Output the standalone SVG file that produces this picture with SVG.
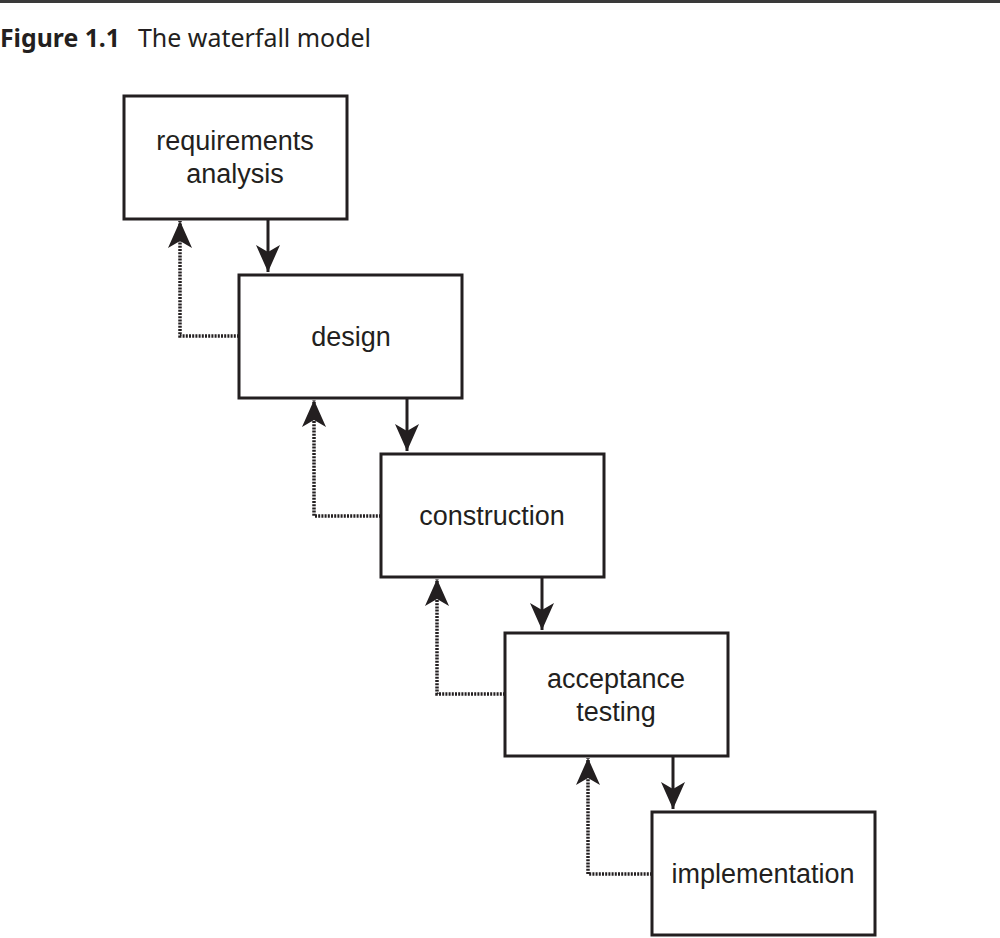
<svg xmlns="http://www.w3.org/2000/svg" width="1000" height="938" viewBox="0 0 1000 938">
<style>
.box{fill:#fff;stroke:#231f20;stroke-width:3}
.lbl{font-family:"Liberation Sans",Arial,sans-serif;font-size:27px;fill:#231f20;text-anchor:middle}
.solid{fill:none;stroke:#231f20;stroke-width:3}
.dot{fill:none;stroke:#231f20;stroke-width:3.5;stroke-dasharray:2 1.2}
</style>
<defs>
<marker id="ah" markerUnits="userSpaceOnUse" markerWidth="32" markerHeight="28" viewBox="-30 -14 32 28" refX="0" refY="0" orient="auto">
<path d="M0,0 L-27,-12 L-20,0 L-27,12 Z" fill="#231f20"/>
</marker>
</defs>
<rect width="1000" height="938" fill="#fff"/>
<line x1="0" y1="1.5" x2="1000" y2="1.5" stroke="#3a3a3a" stroke-width="3"/>
<text x="0" y="47" font-family="'Noto Sans',sans-serif" font-size="25" font-weight="bold" fill="#231f20" textLength="120" lengthAdjust="spacingAndGlyphs">Figure 1.1</text>
<text x="138" y="47" font-family="'Noto Sans',sans-serif" font-size="25" fill="#231f20" textLength="233" lengthAdjust="spacingAndGlyphs">The waterfall model</text>
<g id="connectors">
<path class="solid" d="M268,219 V272" marker-end="url(#ah)"/>
<path class="dot" d="M239,336 H180 V221" marker-end="url(#ah)"/>
<path class="solid" d="M407,398 V451" marker-end="url(#ah)"/>
<path class="dot" d="M381,516 H314 V400" marker-end="url(#ah)"/>
<path class="solid" d="M542,577 V630" marker-end="url(#ah)"/>
<path class="dot" d="M505,694 H437 V579" marker-end="url(#ah)"/>
<path class="solid" d="M673,756 V809" marker-end="url(#ah)"/>
<path class="dot" d="M652,874 H588 V758" marker-end="url(#ah)"/>
</g>
<g id="requirements">
<rect class="box" x="124" y="96" width="223" height="123"/>
<text class="lbl" x="235" y="150">requirements</text>
<text class="lbl" x="235" y="183">analysis</text>
</g>
<g id="design">
<rect class="box" x="239" y="275" width="223" height="123"/>
<text class="lbl" x="351" y="346">design</text>
</g>
<g id="construction">
<rect class="box" x="381" y="454" width="223" height="123"/>
<text class="lbl" x="492" y="525">construction</text>
</g>
<g id="acceptance">
<rect class="box" x="505" y="633" width="223" height="123"/>
<text class="lbl" x="616" y="688">acceptance</text>
<text class="lbl" x="616" y="721">testing</text>
</g>
<g id="implementation">
<rect class="box" x="652" y="812" width="223" height="123"/>
<text class="lbl" x="763" y="883">implementation</text>
</g>
</svg>
